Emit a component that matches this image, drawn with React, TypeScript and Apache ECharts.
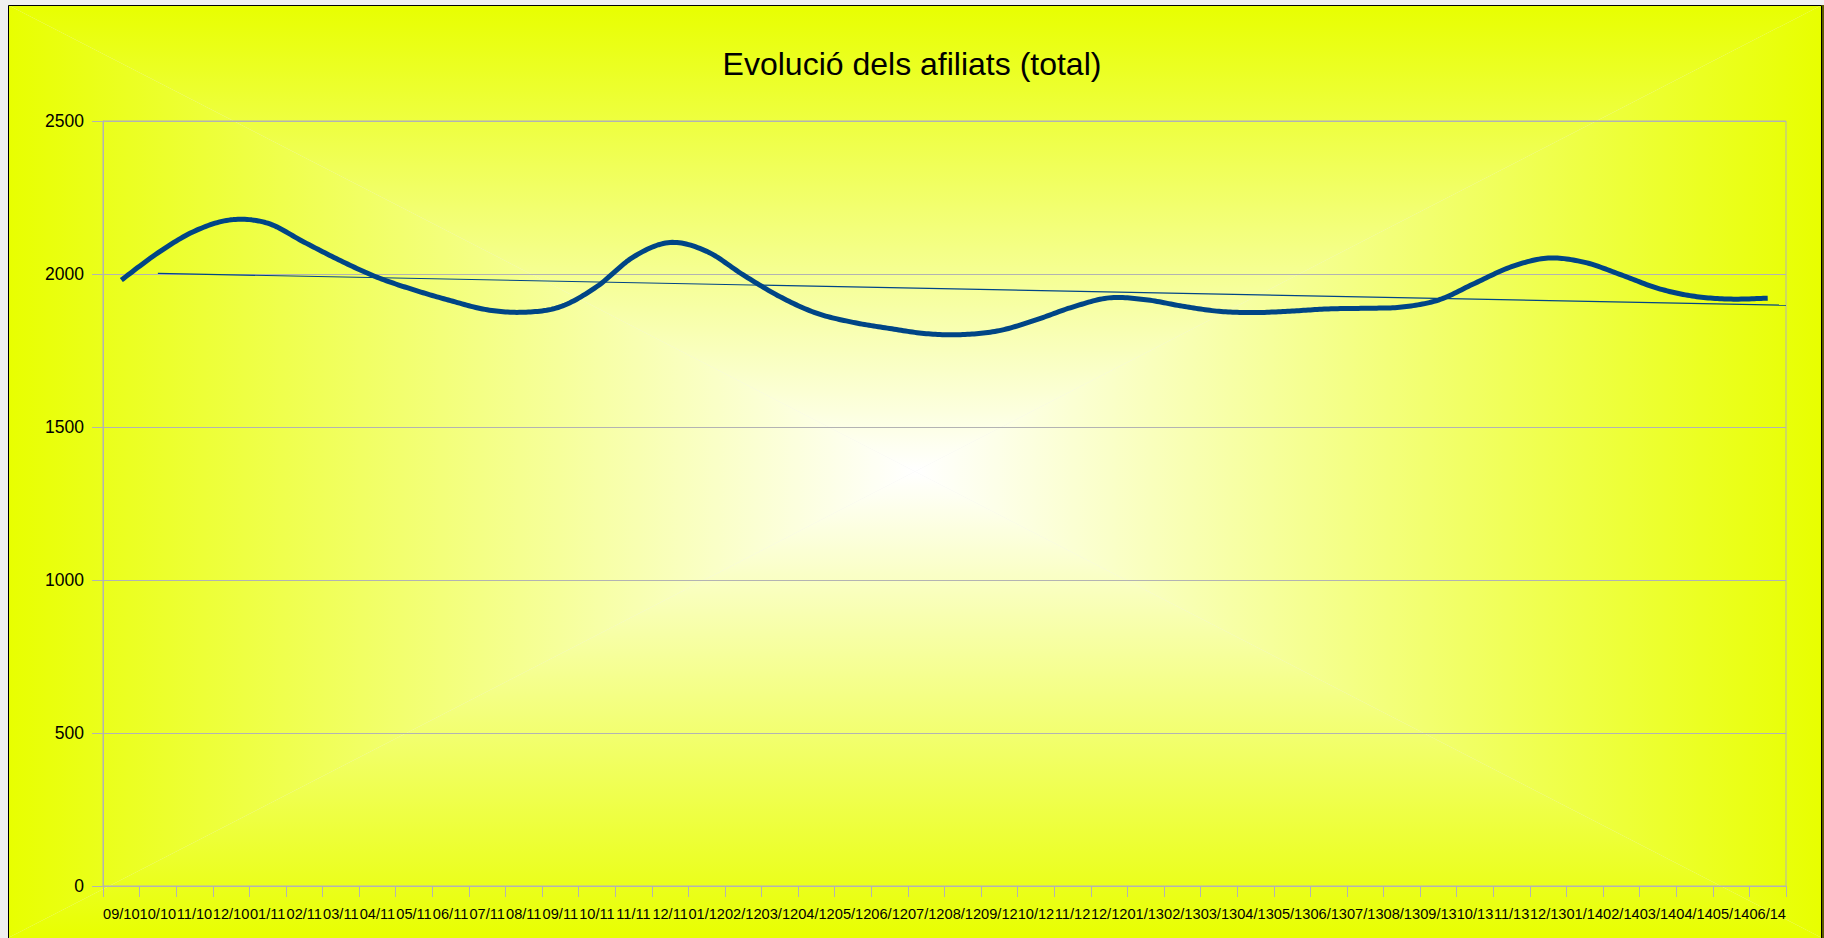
import React, { useEffect, useRef } from "react";
import * as echarts from "echarts";

const categories = [
  "09/10", "10/10", "11/10", "12/10",
  "01/11", "02/11", "03/11", "04/11", "05/11", "06/11", "07/11", "08/11", "09/11", "10/11", "11/11", "12/11",
  "01/12", "02/12", "03/12", "04/12", "05/12", "06/12", "07/12", "08/12", "09/12", "10/12", "11/12", "12/12",
  "01/13", "02/13", "03/13", "04/13", "05/13", "06/13", "07/13", "08/13", "09/13", "10/13", "11/13", "12/13",
  "01/14", "02/14", "03/14", "04/14", "05/14", "06/14",
];

const afiliats = [
  1980, 2069, 2140, 2177,
  2166, 2104, 2043, 1989, 1948, 1913, 1883, 1875, 1893, 1959, 2056, 2103,
  2074, 1997, 1926, 1872, 1842, 1822, 1805, 1802, 1815, 1850, 1892, 1922,
  1916, 1895, 1878, 1874, 1879, 1886, 1888, 1892, 1915, 1970, 2024, 2052,
  2038, 1997, 1953, 1927, 1918, 1921,
];

// linear trend line: [category position, value]
const trendPoints = [
  [1, 2002],
  [45.5, 1898],
];

const FONT = "'Liberation Sans', Arial, sans-serif";
const EDGE = "#e8ff00";
const CENTER = "#ffffff";
const GRID_COLOR = "#b3b3b3";
const LINE_COLOR = "#004586";

export default function App() {
  const ref = useRef<HTMLDivElement>(null);

  useEffect(() => {
    document.body.style.margin = "0";
    const chart = echarts.init(ref.current!, null, { renderer: "svg" });

    const L = 8, T = 5, R = 1822, B = 938;
    const cx = (L + R) / 2, cy = (T + B) / 2;
    const grad = (x: number, y: number, x2: number, y2: number) =>
      new echarts.graphic.LinearGradient(x, y, x2, y2, [
        { offset: 0, color: EDGE },
        { offset: 1, color: CENTER },
      ]);

    // smooth (Catmull-Rom) rendering of the data, positioned with the chart's own axes
    const renderSpline = (params: any, api: any) => {
      if (params.dataIndex !== 0) return null;
      const pts = afiliats.map((v, i) => api.coord([i, v]));
      const n = pts.length;
      const poly: number[][] = [];
      const STEPS = 16;
      for (let i = 0; i < n - 1; i++) {
        const p0 = pts[Math.max(i - 1, 0)];
        const p1 = pts[i];
        const p2 = pts[i + 1];
        const p3 = pts[Math.min(i + 2, n - 1)];
        const c1 = [p1[0] + (p2[0] - p0[0]) / 6, p1[1] + (p2[1] - p0[1]) / 6];
        const c2 = [p2[0] - (p3[0] - p1[0]) / 6, p2[1] - (p3[1] - p1[1]) / 6];
        for (let s = i === 0 ? 0 : 1; s <= STEPS; s++) {
          const t = s / STEPS;
          const u = 1 - t;
          const x = u * u * u * p1[0] + 3 * u * u * t * c1[0] + 3 * u * t * t * c2[0] + t * t * t * p2[0];
          const y = u * u * u * p1[1] + 3 * u * u * t * c1[1] + 3 * u * t * t * c2[1] + t * t * t * p2[1];
          poly.push([x, y]);
        }
      }
      return {
        type: "polyline",
        shape: { points: poly },
        style: { stroke: LINE_COLOR, lineWidth: 5, fill: "none", lineJoin: "round", lineCap: "butt" },
      };
    };

    chart.setOption({
      animation: false,
      title: {
        text: "Evolució dels afiliats (total)",
        left: "center",
        top: 43,
        textStyle: { fontFamily: FONT, fontSize: 32, fontWeight: "normal", color: "#000" },
      },
      graphic: [
        { type: "polygon", z: -100, silent: true, shape: { points: [[L, T], [R, T], [cx, cy]] }, style: { fill: grad(0, 0, 0, 1) } },
        { type: "polygon", z: -100, silent: true, shape: { points: [[L, B], [R, B], [cx, cy]] }, style: { fill: grad(0, 1, 0, 0) } },
        { type: "polygon", z: -100, silent: true, shape: { points: [[L, T], [L, B], [cx, cy]] }, style: { fill: grad(0, 0, 1, 0) } },
        { type: "polygon", z: -100, silent: true, shape: { points: [[R, T], [R, B], [cx, cy]] }, style: { fill: grad(1, 0, 0, 0) } },
        { type: "rect", z: -99, silent: true, shape: { x: L + 0.5, y: T + 0.5, width: R - L - 1, height: B - T + 10 }, style: { fill: "none", stroke: "#000", lineWidth: 1 } },
        { type: "rect", z: -99, silent: true, shape: { x: R, y: T, width: 2, height: B - T + 10 }, style: { fill: "#5c5c00" } },
      ],
      grid: {
        left: 103,
        right: 38,
        top: 121,
        bottom: 52,
        show: true,
        borderColor: GRID_COLOR,
        borderWidth: 1,
        backgroundColor: "transparent",
      },
      xAxis: [
        {
          type: "category",
          data: categories,
          boundaryGap: true,
          axisLine: { onZero: false, lineStyle: { color: GRID_COLOR, width: 1 } },
          axisTick: { show: true, interval: 0, length: 11, lineStyle: { color: GRID_COLOR } },
          axisLabel: { interval: 0, margin: 20, fontFamily: FONT, fontSize: 14.6, color: "#000" },
          splitLine: { show: false },
        },
        {
          type: "value",
          min: -0.5,
          max: 45.5,
          show: false,
          axisLine: { onZero: false },
          splitLine: { show: false },
        },
      ],
      yAxis: {
        type: "value",
        min: 0,
        max: 2500,
        interval: 500,
        axisLine: { show: true, onZero: false, lineStyle: { color: GRID_COLOR, width: 1 } },
        axisTick: { show: true, length: 11, lineStyle: { color: GRID_COLOR } },
        axisLabel: {
          margin: 19,
          fontFamily: FONT,
          fontSize: 17.5,
          color: "#000",
          formatter: (v: number) => String(v),
        },
        splitLine: { show: true, lineStyle: { color: GRID_COLOR, width: 1 } },
      },
      series: [
        {
          name: "Afiliats",
          type: "custom",
          data: afiliats.map((v, i) => [i, v]),
          encode: { x: 0, y: 1 },
          renderItem: renderSpline,
          z: 3,
        },
        {
          name: "Tendència",
          type: "line",
          xAxisIndex: 1,
          data: trendPoints,
          symbol: "none",
          lineStyle: { color: LINE_COLOR, width: 1.2 },
          z: 2,
        },
      ],
    });

    return () => chart.dispose();
  }, []);

  return (
    <div
      ref={ref}
      style={{ position: "absolute", left: 0, top: 0, width: 1824, height: 938, background: "#f0f0f0" }}
    />
  );
}
